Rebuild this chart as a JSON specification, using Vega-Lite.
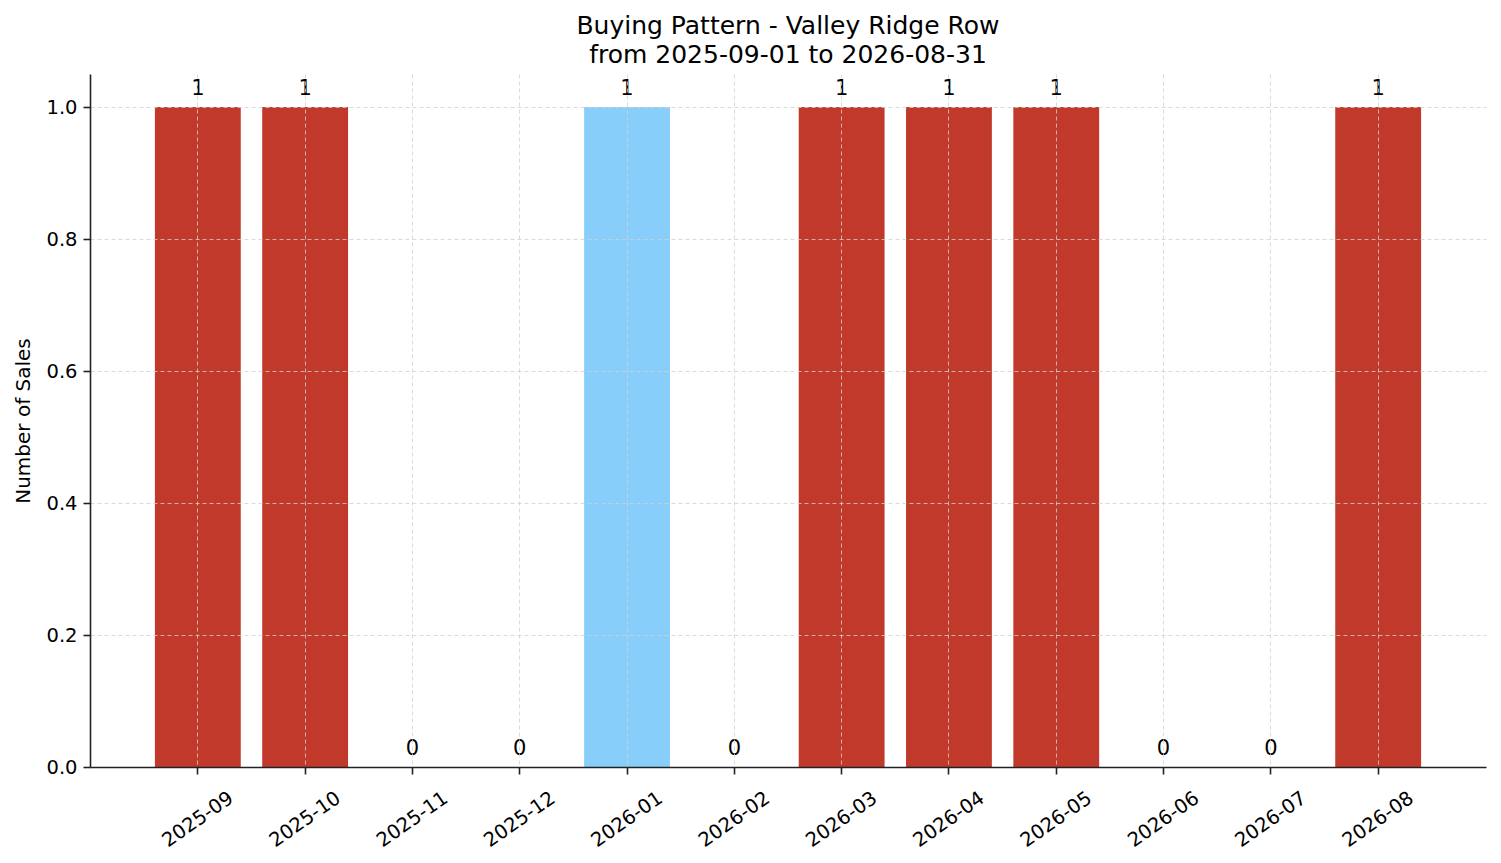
{
  "$schema": "https://vega.github.io/schema/vega-lite/v6.json",
  "background": "#ffffff",
  "autosize": "none",
  "padding": {"left": 90, "top": 74, "right": 15, "bottom": 96},
  "width": 1396,
  "height": 693,
  "title": {
    "text": ["Buying Pattern - Valley Ridge Row", "from 2025-09-01 to 2026-08-31"],
    "font": "DejaVu Sans",
    "fontSize": 25,
    "fontWeight": "normal",
    "color": "#000000",
    "anchor": "middle",
    "lineHeight": 29,
    "offset": 6
  },
  "data": {
    "values": [
      {"month": "2025-09", "sales": 1, "group": "other"},
      {"month": "2025-10", "sales": 1, "group": "other"},
      {"month": "2025-11", "sales": 0, "group": "other"},
      {"month": "2025-12", "sales": 0, "group": "other"},
      {"month": "2026-01", "sales": 1, "group": "highlight"},
      {"month": "2026-02", "sales": 0, "group": "other"},
      {"month": "2026-03", "sales": 1, "group": "other"},
      {"month": "2026-04", "sales": 1, "group": "other"},
      {"month": "2026-05", "sales": 1, "group": "other"},
      {"month": "2026-06", "sales": 0, "group": "other"},
      {"month": "2026-07", "sales": 0, "group": "other"},
      {"month": "2026-08", "sales": 1, "group": "other"}
    ]
  },
  "encoding": {
    "x": {
      "field": "month",
      "type": "ordinal",
      "sort": null,
      "scale": {"paddingInner": 0.2, "paddingOuter": 0.605},
      "title": null,
      "axis": {
        "grid": true,
        "zindex": 1,
        "labelAngle": -35,
        "labelAlign": "center",
        "labelBaseline": "middle",
        "labelPadding": 45
      }
    },
    "y": {
      "field": "sales",
      "type": "quantitative",
      "scale": {"domain": [0, 1.05], "nice": false},
      "title": "Number of Sales",
      "axis": {
        "grid": true,
        "zindex": 1,
        "values": [0, 0.2, 0.4, 0.6, 0.8, 1.0],
        "format": ".1f",
        "labelPadding": 6,
        "titlePadding": 12
      }
    }
  },
  "layer": [
    {
      "mark": {"type": "bar"},
      "encoding": {
        "color": {
          "field": "group",
          "type": "nominal",
          "scale": {"domain": ["other", "highlight"], "range": ["#c0392b", "#87cefa"]},
          "legend": null
        }
      }
    },
    {
      "mark": {
        "type": "text",
        "baseline": "bottom",
        "dy": -8,
        "font": "DejaVu Sans",
        "fontSize": 21,
        "color": "#000000"
      },
      "encoding": {
        "text": {"field": "sales", "type": "quantitative"}
      }
    }
  ],
  "config": {
    "view": {"stroke": null},
    "font": "DejaVu Sans",
    "axis": {
      "labelFont": "DejaVu Sans",
      "labelFontSize": 19.5,
      "labelColor": "#000000",
      "titleFont": "DejaVu Sans",
      "titleFontSize": 20,
      "titleFontWeight": "normal",
      "titleColor": "#000000",
      "domainColor": "#222222",
      "domainWidth": 1.6,
      "tickColor": "#222222",
      "tickWidth": 1.6,
      "tickSize": 7,
      "gridColor": "#d0d0d0",
      "gridDash": [4, 3],
      "gridWidth": 0.8
    }
  }
}
